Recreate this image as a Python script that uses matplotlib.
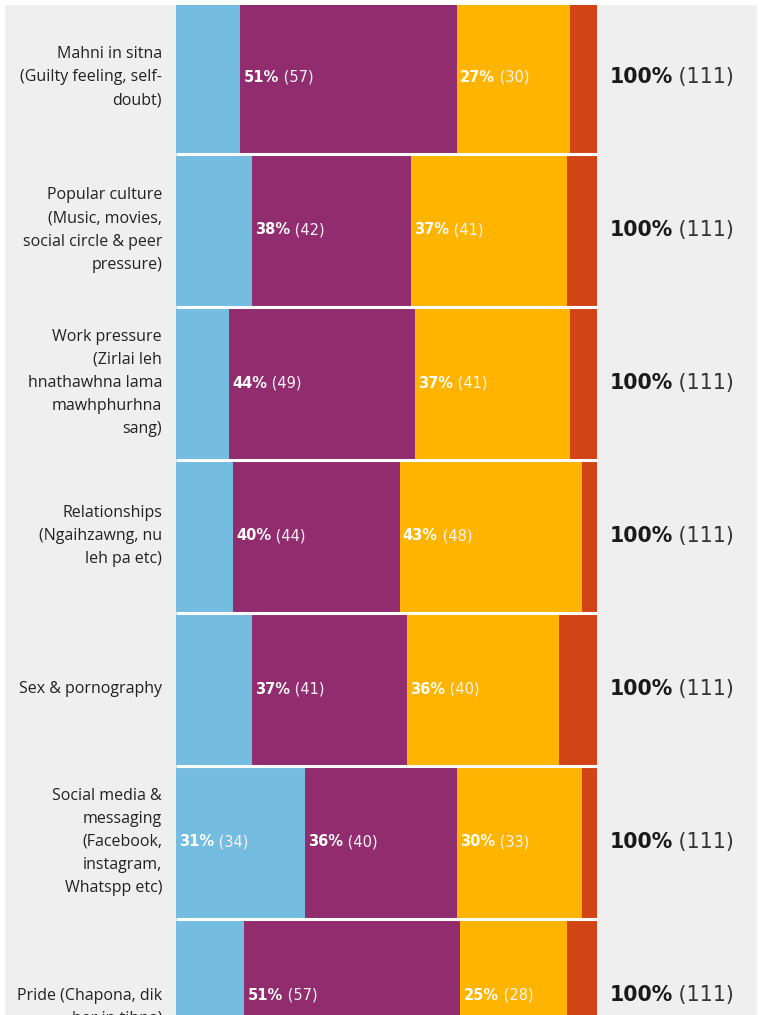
import numpy as np
import matplotlib.pyplot as plt

# reasons (rows top to bottom)
labels = [
    'Mahni in sitna\n(Guilty feeling, self-\ndoubt)',
    'Popular culture\n(Music, movies,\nsocial circle & peer\npressure)',
    'Work pressure\n(Zirlai leh\nhnathawhna lama\nmawhphurhna\nsang)',
    'Relationships\n(Ngaihzawng, nu\nleh pa etc)',
    'Sex & pornography',
    'Social media &\nmessaging\n(Facebook,\ninstagram,\nWhatspp etc)',
    'Pride (Chapona, dik\nber in tihna)',
]
# respondent counts per answer
blue = [17, 20, 14, 15, 20, 34, 18]
purple = [57, 42, 49, 44, 41, 40, 57]
yellow = [30, 41, 41, 48, 40, 33, 28]
red = [7, 8, 7, 4, 10, 4, 8]
total = 111

series = [blue, purple, yellow, red]
colors = ['#74bde0', '#912d6e', '#ffb500', '#d04416']

W, H = 759, 1015
fig = plt.figure(figsize=(W / 100, H / 100), dpi=100, facecolor='white')
ax = fig.add_axes([5 / W, 0, 752 / W, 1010 / H])
ax.set_facecolor('#efefef')
for s in ax.spines.values():
    s.set_visible(False)
ax.set_xticks([])
ax.set_yticks([])

n = len(labels)
y = np.arange(n)
left = np.zeros(n)
for vals, col in zip(series, colors):
    pct = np.array(vals) / total * 100
    ax.barh(y, pct, left=left, height=1.0, color=col, linewidth=0)
    for i in range(n):
        if vals[i] >= 25:
            t = ax.annotate(f'{int(round(pct[i]))}%', xy=(left[i], y[i]), xytext=(2.2, 0),
                            textcoords='offset points', ha='left', va='center',
                            color='white', fontweight='bold', fontsize=10.5,
                            family='DejaVu Sans')
            ax.annotate(f' ({vals[i]})', xy=(1, 0.5), xycoords=t, ha='left', va='center',
                        color='#fbf3f7', fontsize=10.5, family='DejaVu Sans')
    left += pct

# white separators between rows
ax.hlines(y[:-1] + 0.5, 0, 100, color='white', linewidth=2.2)

label_dy = [0, 0, 0, 0, 0, 0, 0.08]
for i in range(n):
    ax.text(-3.3, y[i] + label_dy[i], labels[i], ha='right', va='center', fontsize=11.5,
            family='Open Sans', color='#222222', linespacing=1.6)
    t = ax.text(102.9, y[i], '100%', ha='left', va='center', fontsize=14.8,
                fontweight='bold', family='DejaVu Sans', color='#1a1a1a')
    ax.annotate(f' ({total})', xy=(1, 0.5), xycoords=t, ha='left', va='center',
                fontsize=14.8, family='DejaVu Sans', color='#333333')

ax.set_xlim(-(176 - 5) / 4.21, (757 - 176) / 4.21)
ax.set_ylim((1015 - 77) / 153, (5 - 77) / 153)

plt.savefig('out.png', dpi=100, facecolor='white')
